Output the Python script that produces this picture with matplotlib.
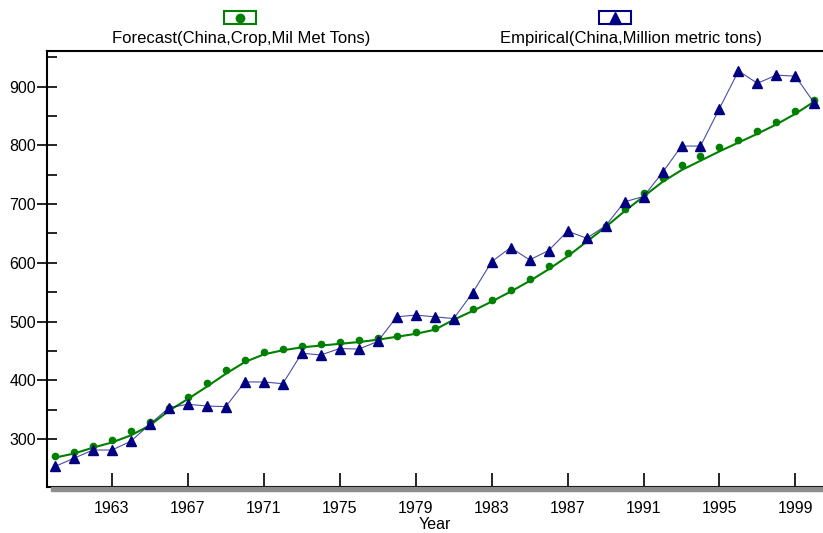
import numpy as np
import matplotlib
matplotlib.use("Agg")
import matplotlib.pyplot as plt
from matplotlib.patches import Rectangle
from matplotlib.lines import Line2D

plt.rcParams['font.family'] = ['Liberation Sans', 'DejaVu Sans']

years = np.arange(1960, 2001)

# forecast points (green dots)
forecast_pts = [270, 278, 288, 298, 313, 329, 353, 372, 395, 418,
                435, 448, 454, 459, 462, 465, 469, 472, 476, 482,
                489, 503, 521, 537, 554, 572, 594, 616, 641, 663,
                691, 719, 744, 766, 782, 797, 810, 824, 840, 859,
                877]
# smoothed forecast curve (green line)
forecast_line = [268, 275, 285, 294, 306, 323, 348, 368, 389, 411,
                 431, 444, 451, 456, 459, 462, 465, 469, 474, 479,
                 486, 503, 518, 534, 551, 569, 589, 611, 636, 661,
                 688, 713, 738, 758, 774, 790, 805, 820, 836, 854,
                 875]
# empirical values (blue triangles)
empirical = [253, 267, 281, 281, 296, 325, 353, 359, 356, 355,
             397, 397, 394, 446, 443, 454, 453, 466, 508, 511,
             508, 505, 549, 602, 626, 605, 621, 654, 642, 663,
             704, 713, 754, 799, 799, 863, 927, 906, 920, 918,
             872]

x_ticks = [1963, 1967, 1971, 1975, 1979, 1983, 1987, 1991, 1995, 1999]
y_ticks = [300, 400, 500, 600, 700, 800, 900]
y_minor = [350, 450, 550, 650, 750, 850, 950]

green = '#008000'
navy = '#000080'

fig = plt.figure(figsize=(8.23, 5.33), dpi=100)
ax = fig.add_axes([47/823, 1-487/533, 775/823, 436/533])

ax.plot(years, forecast_line, color=green, lw=1.5, zorder=2)
ax.plot(years, forecast_pts, 'o', color=green, ms=4.5, zorder=3)
ax.plot(years, empirical, '-', color=navy, lw=0.8, alpha=0.7, zorder=4)
ax.plot(years, empirical, '^', color=navy, ms=7.5, zorder=5)

ax.set_xlim(1959.58, 2000.4)
ax.set_ylim(218, 961)
ax.set_xticks(x_ticks)
ax.set_yticks(y_ticks)
ax.set_yticks(y_minor, minor=True)
ax.tick_params(axis='x', direction='in', length=10, width=1.2, labelsize=11.5, pad=10)
ax.tick_params(axis='y', which='major', direction='inout', length=14, width=1.2, labelsize=11.5, pad=1)
ax.tick_params(axis='y', which='minor', direction='in', length=7, width=1.2)
ax.spines['right'].set_visible(False)
for s in ['left', 'top', 'bottom']:
    ax.spines[s].set_linewidth(1.5)
ax.set_xlabel('Year', fontsize=11.5, labelpad=1)

# shadow under x axis
fig.patches.append(Rectangle((51/823, 1-491/533), 772/823, 4/533,
                             transform=fig.transFigure, color='#8c8c8c', zorder=0))

# legend: icons above labels
legend_items = [('Forecast(China,Crop,Mil Met Tons)', green, 'o', 240, 241),
                ('Empirical(China,Million metric tons)', navy, '^', 615, 631)]
for label, col, mk, icon_x, text_x in legend_items:
    fig.patches.append(Rectangle(((icon_x-16)/823, 1-24/533), 32/823, 13/533,
                                 transform=fig.transFigure, facecolor='white',
                                 edgecolor=col, lw=1.5))
    fig.lines.append(Line2D([icon_x/823], [1-17.5/533], marker=mk, color=col,
                            ms=8 if mk == '^' else 6, transform=fig.transFigure))
    fig.text(text_x/823, 1-39/533, label, ha='center', va='center', fontsize=12)

fig.savefig('out.png', dpi=100)
